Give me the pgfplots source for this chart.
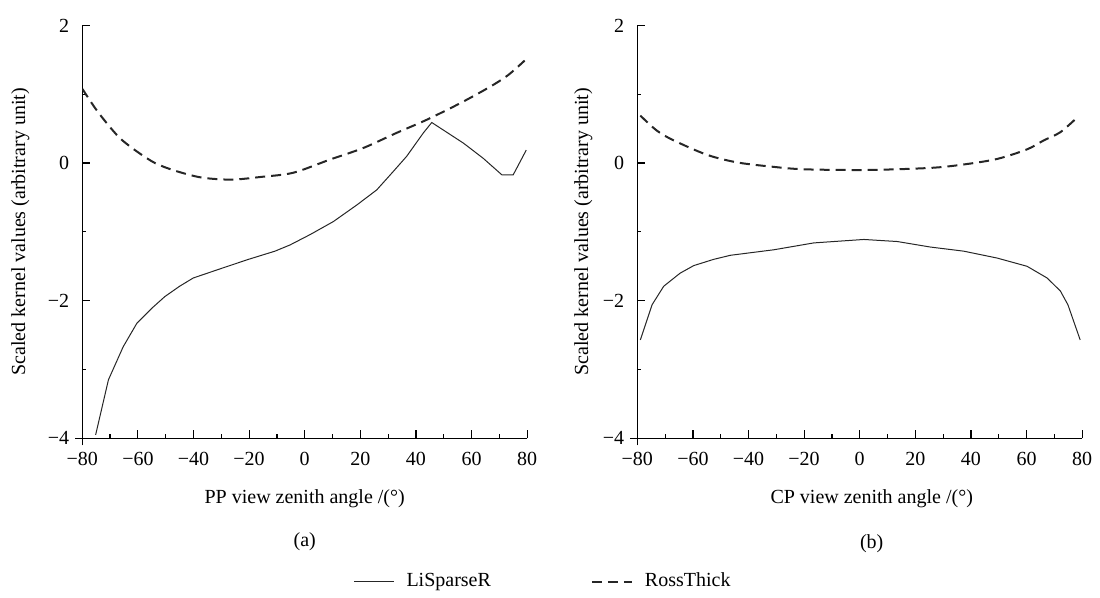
\documentclass[border=0pt]{standalone}
\usepackage{fontspec}
\setmainfont{Liberation Serif}
\usepackage{pgfplots}
\pgfplotsset{compat=1.18}

% LiSparseR and RossThick kernels
\pgfplotstableread{
x y
-75.2 -3.95
-70.6 -3.15
-65.3 -2.67
-60.4 -2.33
-55.0 -2.11
-50.3 -1.94
-45.0 -1.79
-40.1 -1.67
-29.9 -1.53
-20.3 -1.40
-10.7 -1.28
-5.3 -1.19
1.9 -1.04
10.3 -0.85
18.7 -0.61
25.9 -0.39
31.9 -0.12
36.7 0.10
42.7 0.44
45.7 0.59
57.1 0.29
64.2 0.07
70.9 -0.17
75.0 -0.17
79.7 0.19
}\pplisparse
\pgfplotstableread{
x y
-80 1.08
-75.4 0.80
-71.2 0.58
-66.4 0.36
-60.4 0.17
-53.8 0.00
-46.7 -0.11
-37.1 -0.21
-26.3 -0.24
-15.5 -0.20
-4.1 -0.14
9.0 0.05
21.1 0.22
33.1 0.44
43.9 0.63
55.9 0.87
66.7 1.11
73.2 1.28
79.1 1.49
}\pprossthick
\pgfplotstableread{
x y
-78.9 -2.57
-74.7 -2.06
-70.5 -1.79
-64.6 -1.60
-59.7 -1.49
-52.6 -1.40
-46.5 -1.34
-30.9 -1.26
-16.5 -1.16
1.5 -1.11
13.5 -1.14
25.4 -1.22
37.4 -1.28
49.4 -1.38
60.2 -1.50
67.4 -1.67
72.2 -1.86
74.9 -2.06
79.3 -2.57
}\cplisparse
\pgfplotstableread{
x y
-78.9 0.69
-72.9 0.47
-66.9 0.33
-54.9 0.12
-44.1 0.01
-32.1 -0.05
-20.1 -0.09
2.7 -0.10
25.4 -0.07
37.4 -0.02
49.4 0.06
60.2 0.20
66.2 0.33
72.2 0.45
78.4 0.67
}\cprossthick

\begin{document}
\begin{tikzpicture}
\pgfplotsset{
  kern/.style={
    width=222.4pt, height=206.4pt, scale only axis,
    axis lines=left,
    axis line style={-, line width=0.7pt, shorten <=-3.5pt},
    xmin=-80, xmax=80, ymin=-4, ymax=2,
    xtick={-80,-60,...,80}, ytick={-4,-2,0,2},
    xticklabels={−80,−60,−40,−20,0,20,40,60,80},
    yticklabels={−4,−2,0,2},
    minor x tick num=1, minor y tick num=1,
    tick align=inside,
    major tick length=4pt, minor tick length=2pt,
    tick style={line width=0.6pt, black},
    ticklabel style={font=\normalsize},
    xticklabel style={yshift=-3.5pt},
    yticklabel style={xshift=-3pt},
    label style={font=\normalsize},
    xlabel style={at={([yshift=-30pt]axis description cs:0.5,0)}, anchor=center},
  },
  li/.style={line width=0.5pt, black!85},
  ross/.style={line width=1pt, black!85, dash pattern=on 5pt off 3pt},
}
\begin{axis}[kern, name=a,
  xlabel={PP view zenith angle /(°)},
  ylabel={Scaled kernel values (arbitrary unit)},
  ylabel style={at={([xshift=-31pt]axis description cs:0,0.5)}, anchor=center},
  legend columns=2,
  legend image code/.code={\draw[#1] (0pt,0pt) -- (20pt,0pt);},
  legend style={at={(rel axis cs:1.038,-0.347)}, anchor=center, draw=none,
    fill=none, font=\normalsize,
    /tikz/every odd column/.append style={column sep=4pt},
    /tikz/every even column/.append style={column sep=48pt}},
]
\addplot[li] table {\pplisparse};
\addlegendentry{LiSparseR}
\addplot[ross, smooth] table {\pprossthick};
\addlegendentry{RossThick}
\end{axis}

\begin{axis}[kern, name=b, at={(277.5pt,0pt)},
  xlabel={CP view zenith angle /(°)},
  xlabel style={at={([xshift=6pt,yshift=-30pt]axis description cs:0.5,0)}},
  ylabel={Scaled kernel values (arbitrary unit)},
  ylabel style={at={([xshift=-27pt]axis description cs:0,0.5)}, anchor=center},
]
\addplot[li] table {\cplisparse};
\addplot[ross, smooth] table {\cprossthick};
\end{axis}

\node at ([yshift=-51.7pt]a.south) {(a)};
\node at ([xshift=6pt,yshift=-52.7pt]b.south) {(b)};
\path (-41.15pt,-75.85pt) rectangle (508.85pt,219.15pt);
\end{tikzpicture}
\end{document}
